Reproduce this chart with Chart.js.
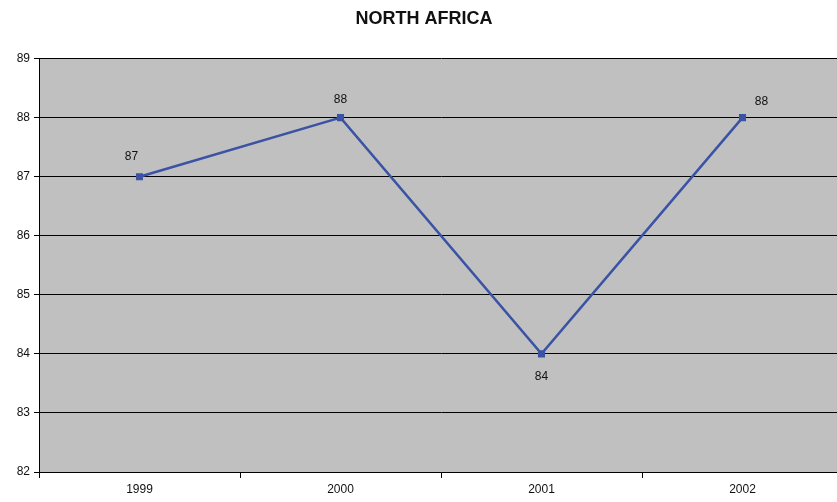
<!DOCTYPE html>
<html>
<head>
<meta charset="utf-8">
<title>North Africa</title>
<script src="https://cdn.jsdelivr.net/npm/chart.js@4.4.1/dist/chart.umd.min.js"></script>
<style>
  html, body { margin: 0; padding: 0; background: #fff; overflow: hidden; }
  canvas { display: block; }
</style>
</head>
<body>
<canvas id="chart" width="848" height="502"></canvas>
<script>
// Chart data
const years = ['1999', '2000', '2001', '2002'];
const values = [87, 88, 84, 88];
const yTicks = [82, 83, 84, 85, 86, 87, 88, 89];

// label nudges (px) so the numbers sit like in the original
const labelOffsets = [[-8, -20], [0, -18], [0, 23], [19, -16]];

const plotBackground = {
  id: 'plotBackground',
  beforeDraw(chart) {
    const { ctx, chartArea } = chart;
    ctx.save();
    ctx.fillStyle = '#c0c0c0';
    ctx.fillRect(chartArea.left, chartArea.top, chartArea.right - chartArea.left, chartArea.bottom - chartArea.top);
    ctx.restore();
  }
};

const valueLabels = {
  id: 'valueLabels',
  afterDatasetsDraw(chart) {
    const ctx = chart.ctx;
    const meta = chart.getDatasetMeta(0);
    ctx.save();
    ctx.font = '12px "Liberation Sans", Arial, sans-serif';
    ctx.fillStyle = '#111';
    ctx.textAlign = 'center';
    ctx.textBaseline = 'middle';
    meta.data.forEach((pt, i) => {
      const off = labelOffsets[i];
      ctx.fillText(String(values[i]), pt.x + off[0], pt.y + off[1]);
    });
    ctx.restore();
  }
};

new Chart(document.getElementById('chart'), {
  type: 'line',
  data: {
    labels: years,
    datasets: [{
      data: values,
      borderColor: '#3a53a4',
      backgroundColor: '#3a53a4',
      borderWidth: 2.5,
      pointStyle: 'rect',
      pointRadius: 5,
      pointBorderWidth: 0,
      tension: 0
    }]
  },
  options: {
    responsive: false,
    animation: false,
    layout: { padding: { top: 0, right: 0, bottom: 0, left: 0 } },
    plugins: {
      legend: { display: false },
      tooltip: { enabled: false },
      title: {
        display: true,
        text: 'NORTH AFRICA',
        color: '#111',
        font: { family: '"Liberation Sans", Arial, sans-serif', size: 18, weight: 'bold' },
        padding: { top: 8, bottom: 29 }
      }
    },
    scales: {
      x: {
        offset: true,
        grid: {
          display: true,
          offset: true,
          drawOnChartArea: false,
          drawTicks: true,
          tickLength: 6,
          color: '#000'
        },
        border: { display: true, color: '#000', width: 1 },
        ticks: {
          color: '#111',
          padding: 4,
          font: { family: '"Liberation Sans", Arial, sans-serif', size: 12 }
        },
        afterFit(scale) { scale.height = 30; }
      },
      y: {
        min: 82,
        max: 89,
        afterBuildTicks(scale) { scale.ticks = yTicks.map(v => ({ value: v })); },
        grid: {
          color: '#000',
          lineWidth: 1,
          drawTicks: true,
          tickLength: 5
        },
        border: { display: true, color: '#000', width: 1 },
        ticks: {
          color: '#111',
          padding: 4,
          font: { family: '"Liberation Sans", Arial, sans-serif', size: 12 }
        },
        afterFit(scale) { scale.width = 39; }
      }
    }
  },
  plugins: [plotBackground, valueLabels]
});
</script>
</body>
</html>
